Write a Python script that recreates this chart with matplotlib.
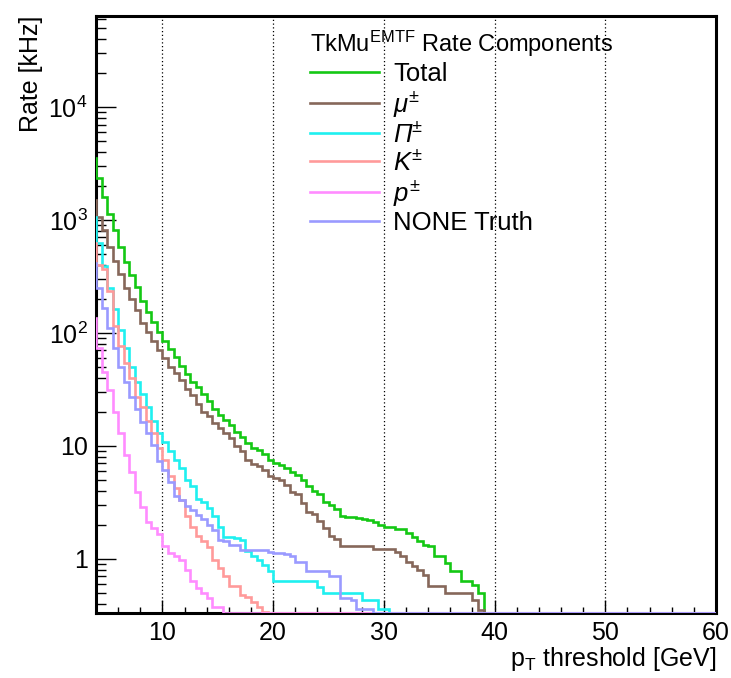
import numpy as np
import matplotlib
matplotlib.use("Agg")
from matplotlib import pyplot as plt
from matplotlib.ticker import MultipleLocator, LogLocator, FuncFormatter, NullFormatter

plt.rcParams['font.family'] = ['Liberation Sans', 'DejaVu Sans']
plt.rcParams['mathtext.fontset'] = 'custom'
plt.rcParams['mathtext.rm'] = 'Liberation Sans'
plt.rcParams['mathtext.it'] = 'Liberation Sans:italic'
plt.rcParams['mathtext.bf'] = 'Liberation Sans:bold'

# bins of 0.5 GeV starting at 3.5 (first bin only shows as the edge at x=4)
bin_start = 3.5
bin_width = 0.5
bin_stop = 60.0

total = [3500, 2340, 1590, 1130, 816, 581, 428, 326, 257, 192, 154, 124, 101, 84, 72, 61,
         51, 43, 37, 33, 29, 24.7, 21, 18.8, 17, 15.3, 13.2, 11.9, 10.6, 9.5, 9.2, 8.5, 7.5,
         7.0, 6.8, 6.3, 5.9, 5.5, 5.0, 4.4, 4.0, 3.7, 3.2, 3.0, 2.75, 2.37, 2.35, 2.34, 2.29,
         2.25, 2.21, 2.12, 1.97, 1.91, 1.89, 1.84, 1.84, 1.69, 1.56, 1.42, 1.33, 1.29, 1.06,
         1.06, 0.92, 0.77, 0.77, 0.63, 0.63, 0.58, 0.50]
muon = [1500, 1060, 816, 581, 436, 333, 248, 199, 158, 123, 101, 84, 70, 60, 50, 44, 38,
        32, 28, 23.5, 20, 18.4, 15.9, 14.5, 12.9, 11.7, 9.9, 8.9, 7.5, 6.9, 6.6, 6.1, 5.4,
        5.2, 5.0, 4.5, 3.9, 3.7, 3.1, 2.6, 2.5, 2.14, 1.85, 1.6, 1.5, 1.29, 1.29, 1.29, 1.29,
        1.29, 1.29, 1.22, 1.22, 1.22, 1.22, 1.15, 1.06, 0.93, 0.86, 0.79, 0.71, 0.57, 0.57,
        0.57, 0.50, 0.50, 0.50, 0.50, 0.50, 0.43, 0.35]
pion = [1070, 630, 390, 249, 163, 106, 73, 50, 37, 29, 22, 16.4, 12.9, 10.9, 8.9, 7.5, 6.3,
        5.0, 4.4, 3.4, 3.2, 2.8, 2.4, 1.9, 1.55, 1.55, 1.52, 1.45, 1.18, 1.06, 0.98, 0.87,
        0.78, 0.64, 0.64, 0.64, 0.64, 0.64, 0.64, 0.64, 0.64, 0.56, 0.50, 0.50, 0.50, 0.50,
        0.50, 0.50, 0.50, 0.43, 0.43, 0.43, 0.36, 0.36]
kaon = [620, 400, 370, 235, 114, 76, 54, 40, 27, 22, 16.4, 12.9, 9.5, 7.5, 5.4, 4.2, 3.3,
        2.4, 1.9, 1.6, 1.42, 1.27, 0.98, 0.83, 0.70, 0.57, 0.57, 0.48, 0.46, 0.41, 0.37, 0.34]
proton = [135, 74, 45, 31, 20, 12.9, 8.3, 5.9, 3.9, 2.85, 2.1, 1.87, 1.66, 1.29, 1.12, 1.05,
          0.98, 0.80, 0.63, 0.55, 0.50, 0.45, 0.37, 0.37]
none_truth = [415, 249, 165, 110, 73, 50, 37, 27, 21, 16.1, 12.9, 10.2, 7.3, 6.1, 4.8, 3.6,
              3.3, 2.9, 2.7, 2.45, 2.25, 2.0, 1.81, 1.47, 1.42, 1.33, 1.33, 1.20, 1.20, 1.20,
              1.20, 1.20, 1.14, 1.12, 1.12, 1.10, 1.05, 0.93, 0.93, 0.77, 0.77, 0.77, 0.77,
              0.70, 0.70, 0.45, 0.45, 0.43, 0.36, 0.36, 0.36]

series = [
    (total, 'Total', '#14c814'),
    (muon, r'$\mu^{\pm}$', '#86675a'),
    (pion, r'Π$^{\pm}$', '#1ff0f0'),
    (kaon, r'$K^{\pm}$', '#ff9a9a'),
    (proton, r'$p^{\pm}$', '#ff8cff'),
    (none_truth, 'NONE Truth', '#9a9aff'),
]

y_lo, y_hi = 0.33, 6.4e4
edges = np.arange(bin_start, bin_stop + bin_width / 2, bin_width)
nbins = len(edges) - 1

fig = plt.figure(figsize=(7.31, 6.78), dpi=100)
ax = fig.add_axes([96 / 731, 1 - 613 / 678, 620 / 731, 597 / 678])

for vals, label, color in series:
    v = np.zeros(nbins)
    v[:len(vals)] = vals
    # empty bins are drawn on the lower frame, as ROOT does
    v = np.maximum(v, y_lo)
    ax.stairs(v, edges, baseline=None, color=color, lw=1.9, label=label, zorder=3)

ax.set_yscale('log')
ax.set_xlim(4, 60)
ax.set_ylim(y_lo, y_hi)

ax.xaxis.set_major_locator(MultipleLocator(10))
ax.xaxis.set_minor_locator(MultipleLocator(2))
ax.yaxis.set_major_locator(LogLocator(base=10))
ax.yaxis.set_minor_locator(LogLocator(base=10, subs=np.arange(2, 10)))
ax.yaxis.set_minor_formatter(NullFormatter())


def ylab(v, pos):
    if v < 1.5:
        return '1'
    if v < 15:
        return '10'
    return r'$\mathregular{10^{%d}}$' % int(round(np.log10(v)))


ax.yaxis.set_major_formatter(FuncFormatter(ylab))

ax.tick_params(axis='both', which='both', direction='in', labelsize=18, color='black')
ax.tick_params(axis='x', which='major', length=9.5, width=1, pad=6)
ax.tick_params(axis='x', which='minor', length=4.5, width=1)
ax.tick_params(axis='y', which='major', length=14.5, width=1, pad=6)
ax.tick_params(axis='y', which='minor', length=7.5, width=1)

ax.xaxis.grid(True, which='major', ls=(0, (1, 2)), color='black', lw=0.9)

for sp in ax.spines.values():
    sp.set_linewidth(2.2)

ax.set_xlabel(r'p$_{\mathregular{T}}$ threshold [GeV]', fontsize=18, loc='right', labelpad=0)
ax.set_ylabel('Rate [kHz]', fontsize=18, loc='top', labelpad=4)

leg = ax.legend(loc='upper left', bbox_to_anchor=(0.345, 0.979), frameon=False,
                fontsize=18.5, title=r'TkMu$^{\mathregular{EMTF}}$ Rate Components',
                title_fontsize=17, alignment='left', handlelength=2.7,
                handletextpad=0.55, labelspacing=0.12, borderpad=0, borderaxespad=0)
leg.get_texts()[2].set_fontstyle('italic')

fig.savefig('out.png', dpi=100)
